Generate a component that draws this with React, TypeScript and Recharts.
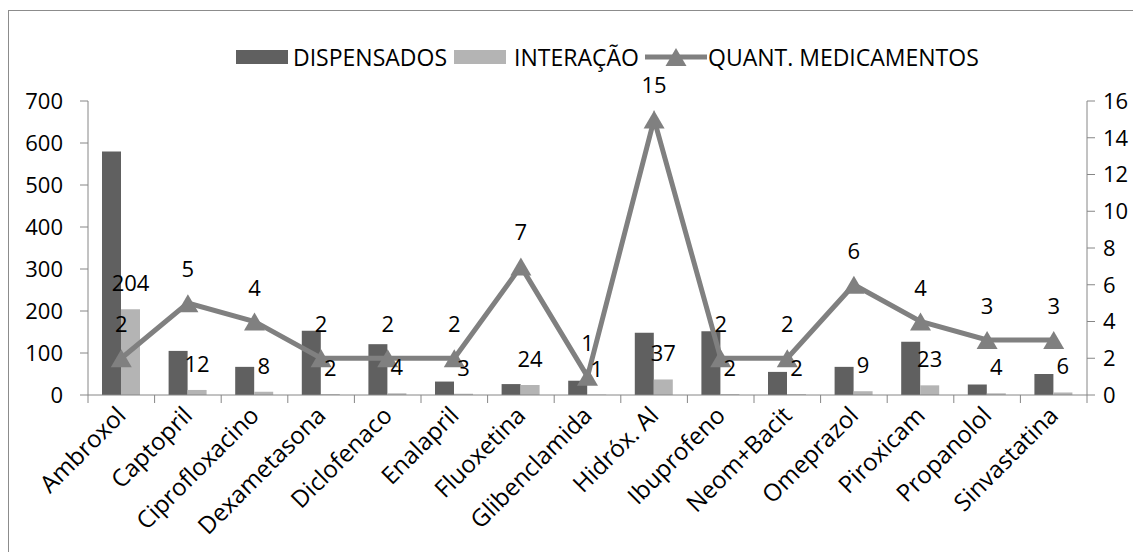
import {
  ComposedChart,
  Bar,
  Line,
  XAxis,
  YAxis,
  LabelList,
} from 'recharts';

const categories = [
  'Ambroxol', 'Captopril', 'Ciprofloxacino', 'Dexametasona', 'Diclofenaco',
  'Enalapril', 'Fluoxetina', 'Glibenclamida', 'Hidróx. Al', 'Ibuprofeno',
  'Neom+Bacit', 'Omeprazol', 'Piroxicam', 'Propanolol', 'Sinvastatina',
];
const dispensados = [580, 105, 67, 153, 121, 32, 26, 34, 148, 152, 55, 67, 127, 25, 50];
const interacao = [204, 12, 8, 2, 4, 3, 24, 1, 37, 2, 2, 9, 23, 4, 6];
const quantMedicamentos = [2, 5, 4, 2, 2, 2, 7, 1, 15, 2, 2, 6, 4, 3, 3];
const leftTicks = [0, 100, 200, 300, 400, 500, 600, 700];
const rightTicks = [0, 2, 4, 6, 8, 10, 12, 14, 16];

const data = categories.map((name, i) => ({
  name,
  dispensados: dispensados[i],
  interacao: interacao[i],
  quant: quantMedicamentos[i],
}));

const DARK = '#606060';
const LIGHT = '#b4b4b4';
const LINE = '#808080';
const AXIS = '#868686';
const FONT = '"Open Sans", sans-serif';

const PLOT_LEFT = 79;
const PLOT_RIGHT = 1078;
const BAND = (PLOT_RIGHT - PLOT_LEFT) / categories.length;

function Triangle({ cx, cy }: any) {
  if (cx == null || cy == null) return null;
  return (
    <polygon
      points={`${cx},${cy - 9} ${cx - 10.5},${cy + 9} ${cx + 10.5},${cy + 9}`}
      fill={LINE}
    />
  );
}

function XTick({ x, y, payload, index }: any) {
  const left = x - BAND / 2;
  const tx = x + 6;
  const ty = y + 22;
  return (
    <g>
      <line x1={left} y1={y} x2={left} y2={y + 8} stroke={AXIS} strokeWidth={1} />
      {index === categories.length - 1 && (
        <line x1={x + BAND / 2} y1={y} x2={x + BAND / 2} y2={y + 8} stroke={AXIS} strokeWidth={1} />
      )}
      <text
        x={tx}
        y={ty}
        textAnchor="end"
        fontFamily={FONT}
        fontSize={24}
        fill="#000"
        transform={`rotate(-45, ${tx}, ${ty})`}
      >
        {payload.value}
      </text>
    </g>
  );
}

function BarValue({ x, y, width, value }: any) {
  return (
    <text
      x={x + width / 2}
      y={y - 27}
      textAnchor="middle"
      dominantBaseline="central"
      fontFamily={FONT}
      fontSize={22}
      fill="#000"
    >
      {value}
    </text>
  );
}

function LineValue({ x, y, value }: any) {
  return (
    <text
      x={x}
      y={y - 35}
      textAnchor="middle"
      dominantBaseline="central"
      fontFamily={FONT}
      fontSize={22}
      fill="#000"
    >
      {value}
    </text>
  );
}

function ChartLegend() {
  const text: any = {
    position: 'absolute',
    top: 0,
    fontFamily: FONT,
    fontSize: 23,
    color: '#000',
    lineHeight: '28px',
    whiteSpace: 'nowrap',
  };
  const swatch: any = { position: 'absolute', top: 7, width: 52, height: 14 };
  return (
    <div style={{ position: 'absolute', left: 0, top: 32, width: 1100, height: 28 }}>
      <span style={{ ...swatch, left: 227, background: DARK }} />
      <span style={{ ...text, left: 284 }}>DISPENSADOS</span>
      <span style={{ ...swatch, left: 445, background: LIGHT }} />
      <span style={{ ...text, left: 505 }}>INTERAÇÃO</span>
      <svg width={62} height={28} style={{ position: 'absolute', left: 636, top: 0 }}>
        <line x1={0} y1={14} x2={62} y2={14} stroke={LINE} strokeWidth={5} />
        <Triangle cx={31} cy={14} />
      </svg>
      <span style={{ ...text, left: 699 }}>QUANT. MEDICAMENTOS</span>
    </div>
  );
}

export default function App() {
  return (
    <div
      style={{
        position: 'relative',
        marginTop: 2,
        width: 1133,
        height: 544,
        borderTop: '1px solid #8c8c8c',
        borderLeft: '1px solid #8c8c8c',
        background: '#fff',
      }}
    >
      <ChartLegend />
      <ComposedChart
        width={1132}
        height={543}
        data={data}
        margin={{ top: 90, right: 4, bottom: 59, left: 9 }}
        barGap={0}
      >
        <XAxis
          dataKey="name"
          interval={0}
          height={100}
          axisLine={{ stroke: AXIS }}
          tickLine={false}
          tickSize={0}
          tickMargin={0}
          tick={<XTick />}
        />
        <YAxis
          yAxisId="left"
          domain={[0, 700]}
          ticks={leftTicks}
          width={70}
          axisLine={{ stroke: AXIS }}
          tickLine={{ stroke: AXIS }}
          tickSize={8}
          tickMargin={17}
          tick={{ fontFamily: FONT, fontSize: 22, fill: '#000' }}
        />
        <YAxis
          yAxisId="right"
          orientation="right"
          domain={[0, 16]}
          ticks={rightTicks}
          width={50}
          axisLine={{ stroke: AXIS }}
          tickLine={{ stroke: AXIS }}
          tickSize={8}
          tickMargin={8}
          tick={{ fontFamily: FONT, fontSize: 22, fill: '#000' }}
        />
        <Bar yAxisId="left" dataKey="dispensados" name="DISPENSADOS" fill={DARK} barSize={19} isAnimationActive={false} />
        <Bar yAxisId="left" dataKey="interacao" name="INTERAÇÃO" fill={LIGHT} barSize={19} isAnimationActive={false}>
          <LabelList dataKey="interacao" content={<BarValue />} />
        </Bar>
        <Line
          yAxisId="right"
          dataKey="quant"
          name="QUANT. MEDICAMENTOS"
          stroke={LINE}
          strokeWidth={5}
          dot={<Triangle />}
          activeDot={false}
          isAnimationActive={false}
        >
          <LabelList dataKey="quant" content={<LineValue />} />
        </Line>
      </ComposedChart>
    </div>
  );
}
